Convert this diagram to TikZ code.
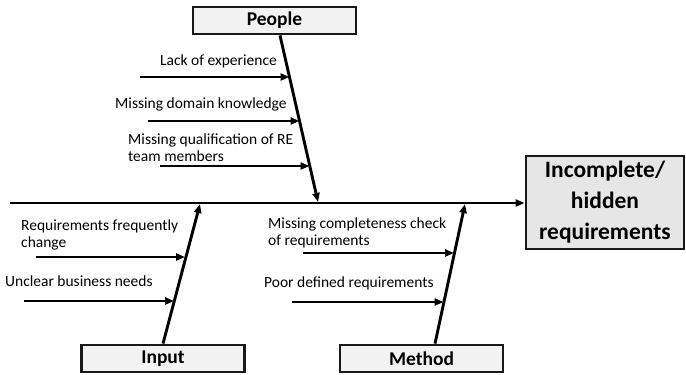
\documentclass[tikz,border=0pt]{standalone}
\usepackage{fontspec}
\setmainfont{Carlito}
\usetikzlibrary{arrows.meta,calc}
\definecolor{boxgray}{HTML}{F2F2F2}
\definecolor{resgray}{HTML}{E6E6E6}
\tikzset{
  catbox/.style={draw=black!90,line width=2.8pt,fill=boxgray,minimum width=163pt,minimum height=27pt,inner sep=0pt,font=\fontsize{19.5}{21}\selectfont\bfseries},
  resbox/.style={draw=black!90,line width=2.8pt,fill=resgray,minimum width=158pt,minimum height=93pt,inner sep=0pt,align=center,font=\fontsize{23.5}{31}\selectfont\bfseries},
  lbl/.style={anchor=base west,inner sep=0pt,align=left,font=\fontsize{15.5}{16.5}\selectfont},
  bone/.style={line width=2.9pt,-{Triangle[length=9pt,width=7pt]}},
  spine/.style={line width=2.9pt,-{Triangle[length=9pt,width=7pt]}}
}
\begin{document}
\begin{tikzpicture}[x=1pt,y=-1pt]
\useasboundingbox (0,0) rectangle (686,375);
% result
\node[resbox] (res) at (605,202.5) {Incomplete/\\hidden\\requirements};
\coordinate (sstart) at (10,203);
\draw[spine] (sstart) -- (res.west |- sstart);
% category boxes
\node[catbox] (people) at (274.5,20.5) {People};
\node[catbox] (input) at (163,358.5) {Input};
\node[catbox] (method) at (421.5,358.5) {Method};
% ribs
\coordinate (pEnd) at (318,202);
\draw[spine] (people.south -| 280,0) -- (pEnd);
\coordinate (iEnd) at (200,204);
\draw[spine] (input.north -| 163,0) -- (iEnd);
\coordinate (mEnd) at (465,204);
\draw[spine] (method.north -| 435,0) -- (mEnd);
% People causes
\node[lbl] (l1) at (160,65) {Lack of experience};
\coordinate (a1s) at (140,77); \coordinate (a1e) at (289.5,77);
\draw[bone] (a1s) -- (a1e);
\node[lbl] (l2) at (115,108) {Missing domain knowledge};
\coordinate (a2s) at (148,121); \coordinate (a2e) at (299.5,121);
\draw[bone] (a2s) -- (a2e);
\node[lbl] (l3) at (128,161) {Missing qualification of RE\\team members};
\coordinate (a3s) at (160,166); \coordinate (a3e) at (309.5,166);
\draw[bone] (a3s) -- (a3e);
% Input causes
\node[lbl] (l4) at (21,247) {Requirements frequently\\change};
\coordinate (a4s) at (36,257); \coordinate (a4e) at (185,257);
\draw[bone] (a4s) -- (a4e);
\node[lbl] (l5) at (5,286) {Unclear business needs};
\coordinate (a5s) at (24,301); \coordinate (a5e) at (174,301);
\draw[bone] (a5s) -- (a5e);
% Method causes
\node[lbl] (l6) at (268,245) {Missing completeness check\\of requirements};
\coordinate (a6s) at (303,253); \coordinate (a6e) at (454,253);
\draw[bone] (a6s) -- (a6e);
\node[lbl] (l7) at (264,287) {Poor defined requirements};
\coordinate (a7s) at (292,302); \coordinate (a7e) at (443.5,302);
\draw[bone] (a7s) -- (a7e);
\end{tikzpicture}
\end{document}
